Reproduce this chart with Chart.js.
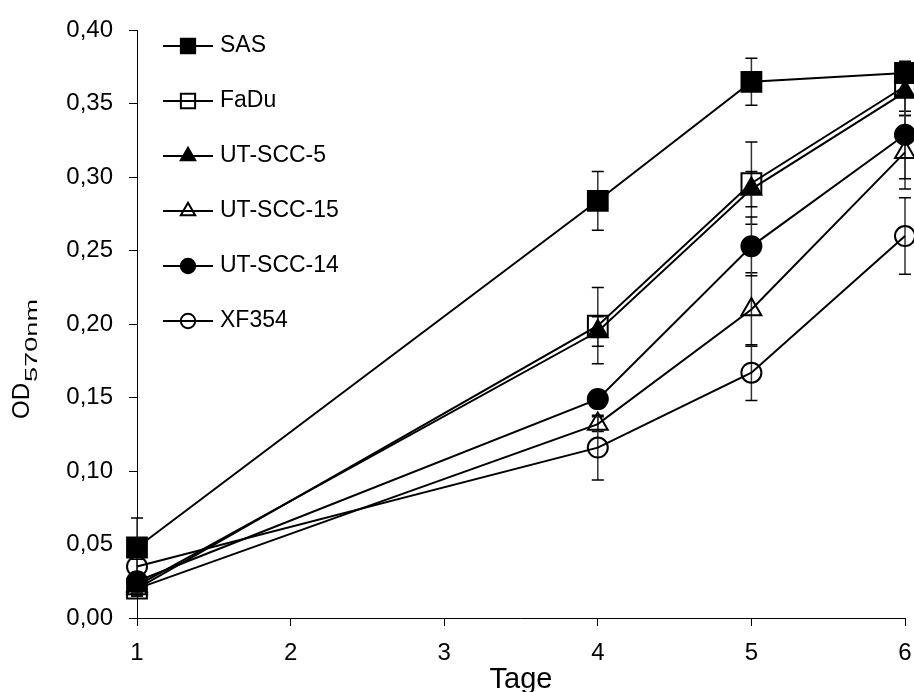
<!DOCTYPE html>
<html>
<head>
<meta charset="utf-8">
<title>OD570nm</title>
<script src="https://cdn.jsdelivr.net/npm/chart.js@4.4.1/dist/chart.umd.min.js"></script>
<style>
  html, body { margin: 0; padding: 0; background: #fff; }
  #wrap { width: 914px; height: 692px; position: relative; }
</style>
</head>
<body>
<div id="wrap"><canvas id="od-chart"></canvas></div>
<script>
// ---- data ----
const days = [1, 4, 5, 6];
const xTicks = [1, 2, 3, 4, 5, 6];
const yTickLabels = ['0,00', '0,05', '0,10', '0,15', '0,20', '0,25', '0,30', '0,35', '0,40'];

const sas = [0.048, 0.284, 0.365, 0.371];
const sasErr = [0.020, 0.020, 0.016, 0.005];
const fadu = [0.020, 0.199, 0.296, 0.362];
const faduErr = [0.005, 0.026, 0.028, 0.017];
const utscc5 = [0.022, 0.195, 0.292, 0.358];
const utscc5Err = [0.005, 0.010, 0.012, 0.016];
const utscc15 = [0.020, 0.132, 0.210, 0.317];
const utscc15Err = [0.005, 0.005, 0.025, 0.025];
const utscc14 = [0.025, 0.149, 0.253, 0.329];
const utscc14Err = [0.005, 0.005, 0.020, 0.030];
const xf354 = [0.035, 0.116, 0.167, 0.260];
const xf354Err = [0.005, 0.022, 0.019, 0.026];

const FONT = "'Liberation Sans', Arial, sans-serif";

const series = [
  { label: 'SAS', values: sas, err: sasErr, shape: 'rect', filled: true, r: 14 },
  { label: 'FaDu', values: fadu, err: faduErr, shape: 'rect', filled: false, r: 14 },
  { label: 'UT-SCC-5', values: utscc5, err: utscc5Err, shape: 'triangle', filled: true, r: 11.5 },
  { label: 'UT-SCC-15', values: utscc15, err: utscc15Err, shape: 'triangle', filled: false, r: 11.5 },
  { label: 'UT-SCC-14', values: utscc14, err: utscc14Err, shape: 'circle', filled: true, r: 10 },
  { label: 'XF354', values: xf354, err: xf354Err, shape: 'circle', filled: false, r: 10 },
];

const datasets = series.map((s, i) => ({
  label: s.label,
  data: days.map((d, j) => ({ x: d, y: s.values[j] })),
  errors: s.err,
  borderColor: '#000',
  borderWidth: 2,
  pointStyle: s.shape,
  pointRadius: s.r,
  pointHoverRadius: s.r,
  pointBackgroundColor: s.filled ? '#000' : 'rgba(0,0,0,0)',
  pointBorderColor: '#000',
  pointBorderWidth: 2,
  tension: 0,
  clip: false,
  order: series.length - i,
}));

// error bars, drawn under the series
const errorBars = {
  id: 'errorBars',
  beforeDatasetsDraw(chart) {
    const { ctx, scales: { y } } = chart;
    ctx.save();
    chart.data.datasets.forEach((ds, i) => {
      const meta = chart.getDatasetMeta(i);
      meta.data.forEach((pt, j) => {
        const v = ds.data[j].y, e = ds.errors[j];
        const top = y.getPixelForValue(v + e);
        const bot = y.getPixelForValue(v - e);
        ctx.strokeStyle = '#333';
        ctx.lineWidth = 1.5;
        ctx.beginPath();
        ctx.moveTo(pt.x, top); ctx.lineTo(pt.x, bot);
        ctx.stroke();
        ctx.strokeStyle = '#000';
        ctx.beginPath();
        ctx.moveTo(pt.x - 6, top); ctx.lineTo(pt.x + 6, top);
        ctx.moveTo(pt.x - 6, bot); ctx.lineTo(pt.x + 6, bot);
        ctx.stroke();
      });
    });
    ctx.restore();
  }
};

// legend inside the plot, line through marker like the original
const insideLegend = {
  id: 'insideLegend',
  afterDraw(chart) {
    const ctx = chart.ctx;
    ctx.save();
    chart.data.datasets.forEach((ds, i) => {
      const y = 46 + i * 55;
      ctx.strokeStyle = '#000';
      ctx.lineWidth = 2;
      ctx.beginPath();
      ctx.moveTo(163, y); ctx.lineTo(213, y);
      ctx.stroke();
      ctx.fillStyle = ds.pointBackgroundColor;
      Chart.helpers.drawPoint(ctx, { pointStyle: ds.pointStyle, radius: ds.pointRadius * 0.72, borderWidth: 2, rotation: 0 }, 188, y);
      ctx.fillStyle = '#000';
      ctx.font = `23px ${FONT}`;
      ctx.textBaseline = 'middle';
      ctx.textAlign = 'left';
      ctx.fillText(ds.label, 220, y);
    });
    ctx.restore();
  }
};

// y title with subscript
const yTitle = {
  id: 'yTitle',
  afterDraw(chart) {
    const ctx = chart.ctx;
    ctx.save();
    ctx.translate(29, 419);
    ctx.rotate(-Math.PI / 2);
    ctx.fillStyle = '#000';
    ctx.textBaseline = 'alphabetic';
    ctx.textAlign = 'left';
    ctx.font = `24px ${FONT}`;
    ctx.fillText('OD', 0, 0);
    const w = ctx.measureText('OD').width;
    ctx.font = `16px ${FONT}`;
    const sw = ctx.measureText('570nm').width;
    ctx.translate(w + 1, 8);
    ctx.scale(83 / sw, 1);
    ctx.fillText('570nm', 0, 0);
    ctx.restore();
  }
};

const tickFont = { family: FONT, size: 24 };

new Chart(document.getElementById('od-chart'), {
  type: 'line',
  data: { datasets },
  plugins: [errorBars, insideLegend, yTitle],
  options: {
    responsive: true,
    maintainAspectRatio: false,
    animation: false,
    layout: { autoPadding: false, padding: { top: 25, right: 9, left: 0, bottom: 0 } },
    plugins: { legend: { display: false }, tooltip: { enabled: false } },
    scales: {
      x: {
        type: 'linear',
        min: 1, max: 6,
        afterBuildTicks: s => { s.ticks = xTicks.map(v => ({ value: v })); },
        afterFit: s => { s.height = 74; s.paddingLeft = 0; s.paddingRight = 0; },
        ticks: { font: tickFont, color: '#000', padding: 13, callback: v => String(v) },
        grid: { drawOnChartArea: false, tickLength: 8, color: '#000' },
        border: { color: '#000', width: 1 },
        title: { display: true, text: 'Tage', color: '#000', padding: 0, font: { family: FONT, size: 29, lineHeight: 0.8 } },
      },
      y: {
        min: 0, max: 0.4,
        afterFit: s => { s.width = 137; },
        ticks: { stepSize: 0.05, font: tickFont, color: '#000', padding: 16, callback: (v, i) => yTickLabels[i] },
        grid: { drawOnChartArea: false, tickLength: 8, color: '#000' },
        border: { color: '#000', width: 1 },
      },
    },
  },
});
</script>
</body>
</html>
